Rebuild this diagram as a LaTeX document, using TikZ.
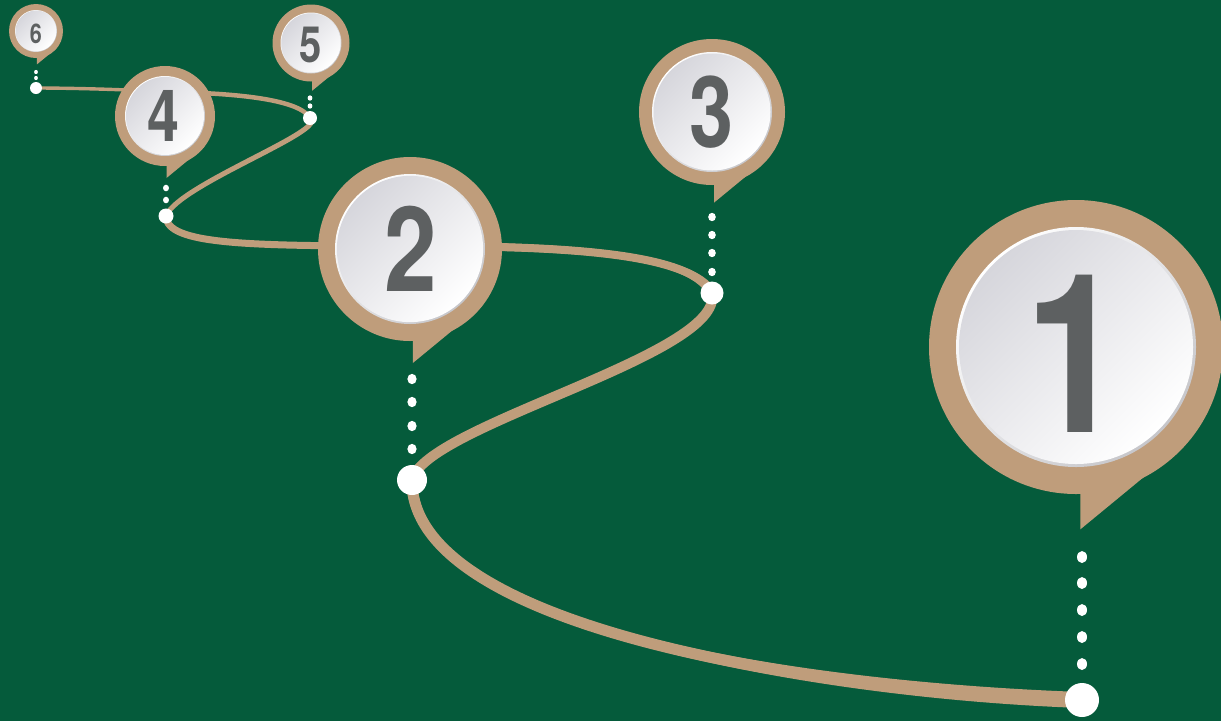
\documentclass[tikz,border=0pt]{standalone}
\usepackage{fontspec}
\newfontfamily\digitfont[FakeStretch=0.8]{TeX Gyre Heros}
\usetikzlibrary{calc}
\definecolor{bg}{RGB}{5,91,59}
\definecolor{tanc}{RGB}{191,157,123}
\definecolor{digitc}{RGB}{93,96,97}
\definecolor{innerA}{RGB}{214,214,220}
\definecolor{rimB}{RGB}{198,198,202}
\tikzset{
  digit/.style={text=digitc, inner sep=0pt, outer sep=0pt},
  bigdot/.style={circle, fill=white, inner sep=0pt, outer sep=0pt},
  road/.style={draw=tanc, line cap=round},
}
\newcommand\taperseg[6]{%
  \path ($(#1)!#5!90:(#2)$) coordinate (ta0) ($(#1)!#5!-90:(#2)$) coordinate (tb0)
        ($(#4)!#6!-90:(#3)$) coordinate (ta3) ($(#4)!#6!90:(#3)$) coordinate (tb3);
  \path ($(#2)+(ta0)-(#1)$) coordinate (ta1) ($(#2)+(tb0)-(#1)$) coordinate (tb1)
        ($(#3)+(ta3)-(#4)$) coordinate (ta2) ($(#3)+(tb3)-(#4)$) coordinate (tb2);
  \fill[tanc] (ta0) .. controls (ta1) and (ta2) .. (ta3) -- (tb3) .. controls (tb2) and (tb1) .. (tb0) -- cycle;}
\newcommand\drawpin[8]{%
  \coordinate (#1) at (#2,#3);
  \fill[tanc] (#1) circle [radius=#4];
  \fill[tanc] ($(#1)+(0.03*#4,0.4*#4)$) -- ($(#1)+(0.03*#4,1.24*#4)$) -- ($(#1)+(38:#4)$) -- cycle;
  \shade[top color=white, bottom color=rimB, shading angle=45] (#1) circle [radius=#5];
  \shade[top color=innerA, bottom color=white, shading angle=45] (#1) circle [radius=0.975*#5];
  \node[digit, font=\digitfont\bfseries\fontsize{#7}{#7}\selectfont] (n#1) at ($(#1)+(#8)$) {#6};}
\newcommand\dotcol[4]{\foreach \yy in {#2} {\fill[white] (#1,\yy) ellipse [x radius=#3, y radius=#4];}}
\begin{document}
\begin{tikzpicture}[x=1pt,y=-1pt]
\useasboundingbox (0,0) rectangle (1221,721);
\fill[bg] (0,0) rectangle (1221,721);
% path anchor points
\coordinate (p1) at (1082,700);
\coordinate (p2) at (412,480);
\coordinate (p3) at (712,293);
\coordinate (p4) at (166,216);
\coordinate (p5) at (310,118);
\coordinate (p6) at (36,88);
\coordinate (m2) at (410,246);
\coordinate (m4) at (166,92);
% control points
\coordinate (a1) at (800,690); \coordinate (a2) at (410,625);
\coordinate (b1) at (425,425); \coordinate (b2) at (725,355);
\coordinate (c1) at (690,252); \coordinate (c2) at (560,246);
\coordinate (e1) at (250,246); \coordinate (e2) at (166,245);
\coordinate (f1) at (178,185); \coordinate (f2) at (330,130);
\coordinate (g1) at (300,100); \coordinate (g2) at (240,93);
\coordinate (h1) at (120,89); \coordinate (h2) at (60,88);
% path strokes
\draw[road, line width=11pt] (p1) .. controls (a1) and (a2) .. (p2);
\draw[road, line width=10pt] (p2) .. controls (b1) and (b2) .. (p3);
\draw[road, line width=8pt] (p3) .. controls (c1) and (c2) .. (m2);
\draw[road, line width=7pt] (m2) .. controls (e1) and (e2) .. (p4);
\draw[road, line width=5pt] (p4) .. controls (f1) and (f2) .. (p5);
\draw[road, line width=4.5pt] (p5) .. controls (g1) and (g2) .. (m4);
\draw[road, line width=3.4pt] (m4) .. controls (h1) and (h2) .. (p6);
% taper near the start
\taperseg{p1}{a1}{a2}{p2}{8pt}{5.5pt}
\taperseg{p2}{b1}{b2}{p3}{5.5pt}{5pt}
\taperseg{p3}{c1}{c2}{m2}{5pt}{4pt}
% pins
\drawpin{q1}{1076}{347}{147}{120}{1}{222}{-1,7}
\drawpin{q2}{410}{249}{92}{75}{2}{118}{1,0}
\drawpin{q3}{712}{112}{73}{60}{3}{99}{0,0}
\drawpin{q4}{165}{116}{50}{40}{4}{72}{-1,0}
\drawpin{q5}{311}{43}{38.5}{30.5}{5}{50}{0,2}
\drawpin{q6}{36}{31}{27}{21}{6}{27}{0,3}
% dotted leaders
\dotcol{1082}{557,583,610,637,664}{5}{6}
\dotcol{412}{379,402,426,449}{4.6}{5.2}
\dotcol{712}{217,235,253,272}{3.8}{4.2}
\dotcol{166}{188,200}{3}{3.3}
\dotcol{310}{98,106}{2.4}{2.7}
\dotcol{36}{72,78}{1.9}{2.1}
% big dots
\node[bigdot, minimum size=34pt] (d1) at (p1) {};
\node[bigdot, minimum size=30pt] (d2) at (p2) {};
\node[bigdot, minimum size=23pt] (d3) at (p3) {};
\node[bigdot, minimum size=15pt] (d4) at (p4) {};
\node[bigdot, minimum size=14pt] (d5) at (p5) {};
\node[bigdot, minimum size=12pt] (d6) at (p6) {};
\end{tikzpicture}
\end{document}
